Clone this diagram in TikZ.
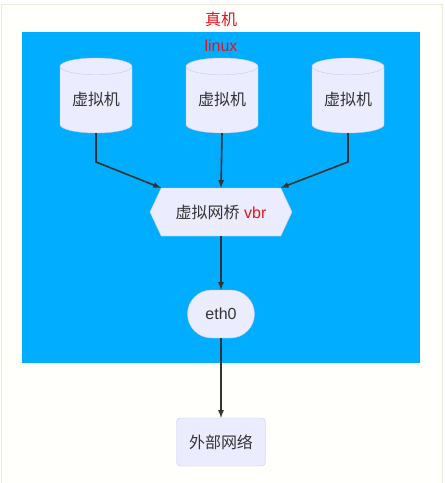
\documentclass[tikz,border=0pt]{standalone}
\usepackage{fontspec}
\setmainfont{Liberation Sans}
\newfontfamily\cjk{Noto Sans CJK SC}
\usetikzlibrary{arrows, shapes}
\definecolor{hostfill}{RGB}{255,255,252}
\definecolor{hostline}{RGB}{236,236,220}
\definecolor{linuxblue}{RGB}{0,173,254}
\definecolor{nodefill}{RGB}{236,236,255}
\definecolor{nodeline}{RGB}{200,200,238}
\definecolor{labelred}{RGB}{226,20,32}
\definecolor{textgrey}{RGB}{51,51,51}

\begin{document}
\begin{tikzpicture}[x=1pt, y=-1pt, >=latex]
    \tikzstyle{every node} = [text=textgrey, font=\fontsize{16}{19}\selectfont]
    \tikzstyle{vm} = [shape=cylinder, shape border rotate=90, aspect=0.35, anchor=shape center, draw=nodeline, fill=nodefill, minimum width=72pt, minimum height=75pt, inner sep=0pt]
    \tikzstyle{bridge} = [shape=signal, signal to=west and east, signal pointer angle=130, draw=nodeline, fill=nodefill, minimum width=142pt, minimum height=48pt, inner sep=0pt]
    \tikzstyle{nic} = [shape=rounded rectangle, draw=nodeline, fill=nodefill, minimum width=67pt, minimum height=48pt, inner sep=0pt]
    \tikzstyle{net} = [shape=rectangle, rounded corners=4pt, draw=nodeline, fill=nodefill, minimum width=89pt, minimum height=48pt, inner sep=0pt]
    \tikzstyle{link} = [->, draw=textgrey, line width=1.6pt]
    \useasboundingbox (0,0) rectangle (445,483);
    \draw [hostline, fill=hostfill] (1,4) rectangle (442,490);
    \fill [linuxblue] (22,32) rectangle (420,363);
    \node (host) at (221,19) {\cjk\textcolor{labelred}{真机}};
    \node (linux) at (221,46) {\textcolor{labelred}{linux}};
    \node (vm1) [vm] at (96,95.5) {\cjk 虚拟机};
    \node (vm2) [vm] at (222,95.5) {\cjk 虚拟机};
    \node (vm3) [vm] at (348,95.5) {\cjk 虚拟机};
    \node (vbr) [bridge] at (221,212) {{\cjk 虚拟网桥} \textcolor{labelred}{vbr}};
    \node (eth) [nic] at (221,314) {eth0};
    \node (ext) [net] at (221,442) {\cjk 外部网络};
    \coordinate (bend1) at (96,162);
    \coordinate (bend3) at (348,162);
      \draw [link] (vm1.bottom) -- (bend1) -- (vbr.north west);
      \draw [link] (vm2.bottom) -- (vbr.north);
      \draw [link] (vm3.bottom) -- (bend3) -- (vbr.north east);
      \draw [link] (vbr.south) -- (eth.north);
      \draw [link] (eth.south) -- (ext.north);
  \end{tikzpicture}
\end{document}
